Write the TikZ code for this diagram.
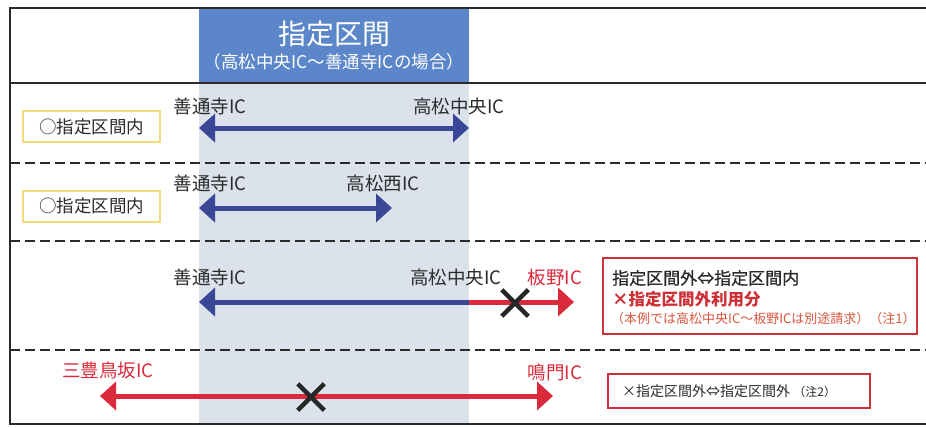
\documentclass[tikz,border=0pt]{standalone}
\usepackage{fontspec}
\setmainfont{Noto Sans CJK JP}
\newfontfamily\semiboldcjk{Noto Sans CJK JP}[FakeBold=0.8]
\usetikzlibrary{arrows.meta,shapes.misc}
\definecolor{hdrblue}{HTML}{5B86C9}
\definecolor{colbg}{HTML}{DCE2EC}
\definecolor{arrblue}{HTML}{3A4796}
\definecolor{arrred}{HTML}{DA2A3C}
\definecolor{boxred}{HTML}{CE3038}
\definecolor{notered}{HTML}{D9573F}
\definecolor{yelbox}{HTML}{F0DC78}
\definecolor{framec}{HTML}{2A2A2A}
\definecolor{txt}{HTML}{2B2B2B}
\tikzset{
  iclabel/.style={font=\fontsize{18.5}{18.5}\selectfont, text=txt, inner sep=0pt},
  redlabel/.style={iclabel, text=arrred},
  bluearrow/.style={line width=5pt, draw=arrblue},
  redarrow/.style={line width=5pt, draw=arrred},
  crossmark/.style={cross out, draw=black!85, line width=4.5pt, minimum size=22pt, inner sep=0pt},
  okbox/.style={draw=yelbox, line width=2pt, minimum width=137pt, minimum height=31pt, inner sep=0pt, font=\fontsize{17.5}{17.5}\selectfont, text=txt},
  notebox/.style={draw=boxred, line width=2.5pt},
  solidrule/.style={draw=framec, line width=2pt},
  dashrule/.style={draw=framec, line width=2pt, dash pattern=on 10pt off 5pt},
}
\begin{document}
\begin{tikzpicture}[x=1pt,y=-1pt,
  >={Triangle[length=16pt,width=28pt]}]
\useasboundingbox (0,0) rectangle (926,428);
\fill[white] (0,0) rectangle (926,428);
% column shading and header
\fill[colbg] (199,83) rectangle (469,424);
\fill[hdrblue] (199,8) rectangle (469,83);
\node[text=white, font=\fontsize{28}{28}\selectfont, inner sep=0pt] (title) at (334,34) {指定区間};
\node[text=white, font=\fontsize{17.5}{17.5}\selectfont, inner sep=0pt] (subtitle) at (334,62) {（高松中央IC～善通寺ICの場合）};
% frame
\draw[solidrule] (926,8) -- (10,8) -- (10,424) -- (926,424);
\draw[solidrule] (10,83) -- (926,83);
\draw[dashrule] (10,163) -- (926,163);
\draw[dashrule] (10,241) -- (926,241);
\draw[dashrule] (10,350) -- (926,350);

% row 1
\node[okbox] (ok1) at (91.5,126.5) {○指定区間内};
\node[iclabel] (z1) at (210,106) {善通寺IC};
\node[iclabel] (t1) at (459,106) {高松中央IC};
\coordinate (a1l) at (199,128);
\coordinate (a1r) at (469,128);
\draw[bluearrow, <->] (a1l) -- (a1r);

% row 2
\node[okbox] (ok2) at (91.5,206) {○指定区間内};
\node[iclabel] (z2) at (210,183) {善通寺IC};
\node[iclabel] (n2) at (383,183) {高松西IC};
\coordinate (a2l) at (199,208);
\coordinate (a2r) at (392,208);
\draw[bluearrow, <->] (a2l) -- (a2r);

% row 3
\node[iclabel] (z3) at (210,277) {善通寺IC};
\node[iclabel] (t3) at (456,277) {高松中央IC};
\node[redlabel] (i3) at (555,277) {板野IC};
\coordinate (a3l) at (199,302);
\coordinate (a3m) at (469,302);
\coordinate (a3r) at (574,302);
\draw[bluearrow, ->] (a3m) -- (a3l);
\draw[redarrow, ->] (a3m) -- (a3r);
\node[crossmark] (x3) at (515,303) {};
\node[notebox, minimum width=314pt, minimum height=76pt] (nb3) at (760,296) {};
\node[anchor=west, inner sep=0pt, text=txt, font=\fontsize{17}{17}\semiboldcjk] (l31) at (612,278) {指定区間外⇔指定区間内};
\node[anchor=west, inner sep=0pt, text=boxred, font=\fontsize{16.5}{16.5}\selectfont\bfseries] (l32) at (612,299) {×指定区間外利用分};
\node[anchor=west, inner sep=0pt, text=notered, font=\fontsize{13}{13}\selectfont] (l33) at (611,319) {（本例では高松中央IC～板野ICは別途請求）（注1）};

% row 4
\node[redlabel] (m4) at (108,370) {三豊鳥坂IC};
\node[redlabel] (n4) at (555,372) {鳴門IC};
\coordinate (a4l) at (100,396);
\coordinate (a4r) at (553,396);
\draw[redarrow, <->] (a4l) -- (a4r);
\node[crossmark] (x4) at (311,397) {};
\node[notebox, minimum width=262pt, minimum height=34pt] (nb4) at (739,391) {};
\node[anchor=west, inner sep=0pt, text=txt, font=\fontsize{14}{14}\selectfont] (l41) at (622,391) {×指定区間外⇔指定区間外 {\fontsize{12}{12}\selectfont（注2）}};
\end{tikzpicture}
\end{document}
